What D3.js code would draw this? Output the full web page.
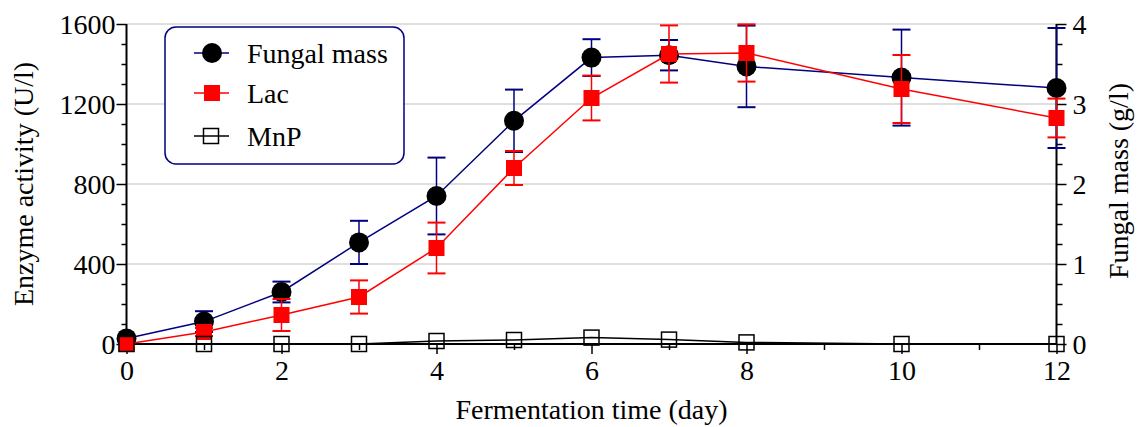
<!DOCTYPE html>
<html>
<head>
<meta charset="utf-8">
<script src="https://cdn.jsdelivr.net/npm/d3@7"></script>
<style>
  body { margin: 0; background: #fff; }
</style>
</head>
<body>
<div id="chart"></div>
<script>
var days = [0, 1, 2, 3, 4, 5, 6, 7, 8, 10, 12];
var fungalMass = [0.07, 0.28, 0.65, 1.27, 1.85, 2.79, 3.58, 3.61, 3.47, 3.33, 3.2];
var fungalErr = [0.03, 0.13, 0.13, 0.27, 0.48, 0.39, 0.23, 0.19, 0.51, 0.6, 0.75];
var lac = [0, 60, 145, 235, 480, 880, 1230, 1450, 1455, 1275, 1130];
var lacErr = [0, 20, 80, 83, 127, 85, 112, 143, 143, 170, 97];
var mnp = [0, 0, 0, 0, 15, 20, 32, 22, 8, 0, 0];
var leftTicks = [0, 400, 800, 1200, 1600];
var rightTicks = [0, 1, 2, 3, 4];
var xTicks = [0, 2, 4, 6, 8, 10, 12];
var legendNames = ["Fungal mass", "Lac", "MnP"];

var FONT = "'Liberation Serif', 'Times New Roman', Times, 'DejaVu Serif', serif";

function init() {
    var margin = { top: 24, right: 82, bottom: 83, left: 126.5 },
        width = 1056.5 - margin.left,
        height = 344 - margin.top;

    var svg = d3.select("#chart")
        .append("svg")
        .attr("width", 1138)
        .attr("height", 427)
        .style("font-family", FONT);

    var g = svg.append("g")
        .attr("transform", "translate(" + margin.left + "," + margin.top + ")");

    var x = d3.scaleLinear().domain([0, 12]).range([0, width]);
    var y = d3.scaleLinear().domain([0, 1600]).range([height, 0]);
    var y2 = d3.scaleLinear().domain([0, 4]).range([height, 0]);

    // grid
    g.selectAll(".grid")
        .data(leftTicks.filter(d => d > 0))
        .enter().append("line")
        .attr("x1", 0).attr("x2", width)
        .attr("y1", d => y(d)).attr("y2", d => y(d))
        .attr("stroke", "#d4d4d4")
        .attr("stroke-width", 1.5);

    // left axis
    var leftAxis = g.append("g")
        .call(d3.axisLeft(y).tickValues(d3.range(0, 1601, 100)).tickSize(10).tickFormat(d => leftTicks.includes(d) ? d : ""));
    leftAxis.selectAll(".tick line").filter(d => !leftTicks.includes(d)).attr("x2", -5);
    leftAxis.select(".domain").attr("stroke-width", 2).attr("d", "M0,0V" + height);
    leftAxis.selectAll("text")
        .attr("x", -11)
        .attr("dy", "0.33em");

    // right axis
    var rightAxis = g.append("g")
        .attr("transform", "translate(" + width + ",0)")
        .call(d3.axisRight(y2).tickValues(d3.range(0, 4.01, 0.25)).tickSize(10).tickFormat(d => rightTicks.includes(d) ? d : ""));
    rightAxis.selectAll(".tick line").filter(d => !rightTicks.includes(d)).attr("x2", 6);
    rightAxis.select(".domain").attr("stroke-width", 2).attr("d", "M0,0V" + height);
    rightAxis.selectAll("text")
        .attr("x", 16)
        .attr("dy", "0.33em");

    // bottom axis
    var bottomAxis = g.append("g")
        .attr("transform", "translate(0," + height + ")")
        .call(d3.axisBottom(x).tickValues(d3.range(0, 13)).tickSize(10).tickFormat(d => xTicks.includes(d) ? d : ""));
    bottomAxis.selectAll(".tick line").filter(d => !xTicks.includes(d)).attr("y2", 6);
    bottomAxis.select(".domain").attr("stroke-width", 2).attr("d", "M0,0H" + width);
    bottomAxis.selectAll("text")
        .attr("y", 16)
        .attr("dy", "0.71em");

    [leftAxis, rightAxis, bottomAxis].forEach(function (a) {
        a.attr("font-family", FONT).attr("font-size", 28);
        a.selectAll(".tick text").attr("fill", "#000");
        a.selectAll(".domain, .tick line").attr("stroke", "#000");
        a.selectAll(".tick line").attr("stroke-width", 1.5);
    });

    // axis titles
    svg.append("text")
        .attr("transform", "translate(33,184) rotate(-90)")
        .attr("text-anchor", "middle")
        .attr("font-size", 28)
        .text("Enzyme activity (U/l)");
    svg.append("text")
        .attr("transform", "translate(1128,181) rotate(-90)")
        .attr("text-anchor", "middle")
        .attr("font-size", 28)
        .text("Fungal mass (g/l)");
    svg.append("text")
        .attr("x", (margin.left + 1056.5) / 2)
        .attr("y", 419)
        .attr("text-anchor", "middle")
        .attr("font-size", 28)
        .text("Fermentation time (day)");

    var fData = days.map((d, i) => ({ d: d, v: fungalMass[i], e: fungalErr[i] }));
    var lData = days.map((d, i) => ({ d: d, v: lac[i], e: lacErr[i] }));
    var mData = days.map((d, i) => ({ d: d, v: mnp[i] }));

    function errorBars(data, scale, color) {
        var eb = g.append("g").attr("stroke", color).attr("stroke-width", 2).attr("fill", "none");
        data.forEach(function (p) {
            if (p.e <= 0) return;
            var top = scale(p.v + p.e), bot = scale(p.v - p.e), cx = x(p.d);
            eb.append("line").attr("x1", cx).attr("x2", cx).attr("y1", top).attr("y2", bot).attr("stroke-width", 1.5);
            eb.append("line").attr("x1", cx - 9).attr("x2", cx + 9).attr("y1", top).attr("y2", top);
            eb.append("line").attr("x1", cx - 9).attr("x2", cx + 9).attr("y1", bot).attr("y2", bot);
        });
    }

    // MnP line
    g.append("path")
        .datum(mData)
        .attr("fill", "none")
        .attr("stroke", "#000")
        .attr("stroke-width", 1.5)
        .attr("d", d3.line().x(p => x(p.d)).y(p => y(p.v)));

    // Fungal mass
    errorBars(fData, y2, "#000080");
    g.append("path")
        .datum(fData)
        .attr("fill", "none")
        .attr("stroke", "#000080")
        .attr("stroke-width", 1.5)
        .attr("d", d3.line().x(p => x(p.d)).y(p => y2(p.v)));
    g.selectAll(".fm")
        .data(fData)
        .enter().append("circle")
        .attr("cx", p => x(p.d))
        .attr("cy", p => y2(p.v))
        .attr("r", 10)
        .attr("fill", "#000");

    // Lac
    errorBars(lData, y, "#ff0000");
    g.append("path")
        .datum(lData)
        .attr("fill", "none")
        .attr("stroke", "#ff0000")
        .attr("stroke-width", 1.5)
        .attr("d", d3.line().x(p => x(p.d)).y(p => y(p.v)));
    g.selectAll(".lac")
        .data(lData)
        .enter().append("rect")
        .attr("x", p => x(p.d) - 8)
        .attr("y", p => y(p.v) - 8)
        .attr("width", 16)
        .attr("height", 16)
        .attr("fill", "#ff0000");

    // MnP markers (open squares, drawn on top)
    g.selectAll(".mnp")
        .data(mData)
        .enter().append("rect")
        .attr("x", p => x(p.d) - 7.5)
        .attr("y", p => y(p.v) - 7.5)
        .attr("width", 15)
        .attr("height", 15)
        .attr("fill", "none")
        .attr("stroke", "#000")
        .attr("stroke-width", 1.5);

    // legend
    var legend = svg.append("g");
    legend.append("rect")
        .attr("x", 165).attr("y", 27)
        .attr("width", 239).attr("height", 137)
        .attr("rx", 11)
        .attr("fill", "#fff")
        .attr("stroke", "#000080")
        .attr("stroke-width", 1.5);
    var rowsY = [53, 93, 136];
    var colors = ["#000080", "#ff0000", "#000"];
    legendNames.forEach(function (name, i) {
        var ly = rowsY[i];
        legend.append("line")
            .attr("x1", 194).attr("x2", 229)
            .attr("y1", ly).attr("y2", ly)
            .attr("stroke", colors[i]).attr("stroke-width", 1.5);
        if (i === 0) {
            legend.append("circle").attr("cx", 212).attr("cy", ly).attr("r", 10).attr("fill", "#000");
        } else if (i === 1) {
            legend.append("rect").attr("x", 204).attr("y", ly - 8).attr("width", 16).attr("height", 16).attr("fill", "#ff0000");
        } else {
            legend.append("rect").attr("x", 203.5).attr("y", ly - 7.5).attr("width", 15).attr("height", 15)
                .attr("fill", "none").attr("stroke", "#000").attr("stroke-width", 1.5);
        }
        legend.append("text")
            .attr("x", 247)
            .attr("y", ly)
            .attr("dy", "0.35em")
            .attr("font-size", 28)
            .text(name);
    });
}

window.onload = init;
</script>
</body>
</html>
